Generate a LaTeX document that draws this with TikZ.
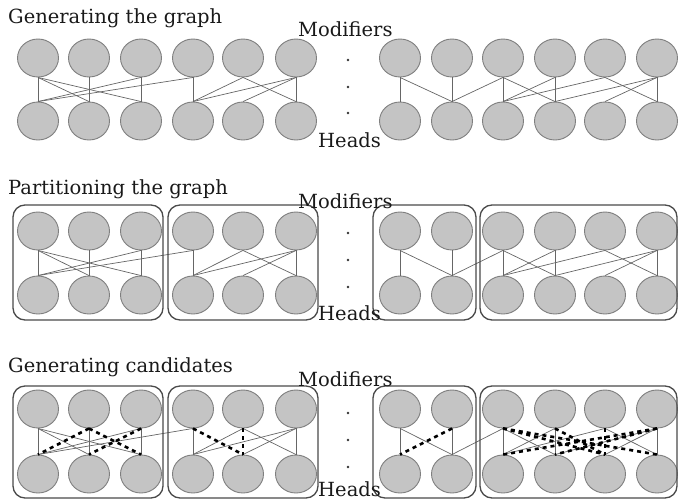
\documentclass[tikz,border=0pt]{standalone}
\usepackage{fontspec}
\setmainfont{DejaVu Serif}
\usetikzlibrary{shapes.geometric}
\definecolor{nodefill}{HTML}{C4C4C4}
\definecolor{nodeline}{HTML}{7F7F7F}
\definecolor{edgecol}{HTML}{666666}
\definecolor{boxcol}{HTML}{4A4A4A}
\begin{document}
\begin{tikzpicture}[x=1pt,y=-1pt,
  vtx/.style={ellipse,draw=nodeline,fill=nodefill,line width=0.9pt,minimum width=41pt,minimum height=38pt,inner sep=0pt},
  edge/.style={draw=edgecol,line width=0.7pt},
  cand/.style={draw=black,line width=2.6pt,dash pattern=on 4pt off 4pt},
  grp/.style={draw=boxcol,line width=1.3pt,rounded corners=12pt},
  lbl/.style={anchor=base west,inner sep=0pt,text=black!90,font=\fontsize{19.5}{22}\selectfont},
  dotmark/.style={fill=black!80}]
\useasboundingbox (0,0) rectangle (678,501);
% nodes
\foreach \p/\yt/\yb in {A/58/121, B/231/295, C/409/474} {
  \foreach \x [count=\i] in {38,89,141,193,243,296,400,452,503,555,605,657} {
    \node[vtx] (\p m\i) at (\x,\yt) {};
    \node[vtx] (\p h\i) at (\x,\yb) {};
  }
}
% thin edges (all panels)
\foreach \p in {A,B,C} {
  \foreach \m/\h in {1/1,2/2,3/3,1/2,1/3,3/1,4/1,4/4,6/6,5/4,6/4,5/6,6/5,
                     7/7,8/8,9/9,10/10,12/12,7/8,9/8,9/10,10/9,11/9,11/12,12/10,12/11} {
    \draw[edge] (\p m\m.south) -- (\p h\h.north);
  }
}
% candidate edges
\foreach \m/\h in {2/1,2/3,3/2,4/5,5/5,8/7,9/11,9/12,10/11,11/11,12/9,12/10} {
  \draw[cand] (Cm\m.south) -- (Ch\h.north);
}
% partition boxes
\foreach \yt/\yb in {205/320, 386/498} {
  \draw[grp] (13,\yt) rectangle (163,\yb);
  \draw[grp] (168,\yt) rectangle (318,\yb);
  \draw[grp] (373,\yt) rectangle (476,\yb);
  \draw[grp] (480,\yt) rectangle (677,\yb);
}
% ellipsis dots
\foreach \y in {60,87,113,233,260,287,413,440,467} {
  \fill[dotmark] (348,\y) circle (1.3pt);
}
% labels
\node[lbl] (t1) at (8,23) {Generating the graph};
\node[lbl] (t2) at (8,194) {Partitioning the graph};
\node[lbl] (t3) at (8,372) {Generating candidates};
\node[lbl] (mA) at (298,36) {Modifiers};
\node[lbl] (mB) at (298,208) {Modifiers};
\node[lbl] (mC) at (298,386) {Modifiers};
\node[lbl] (hA) at (318,147) {Heads};
\node[lbl] (hB) at (318,320) {Heads};
\node[lbl] (hC) at (318,496) {Heads};
\end{tikzpicture}
\end{document}
